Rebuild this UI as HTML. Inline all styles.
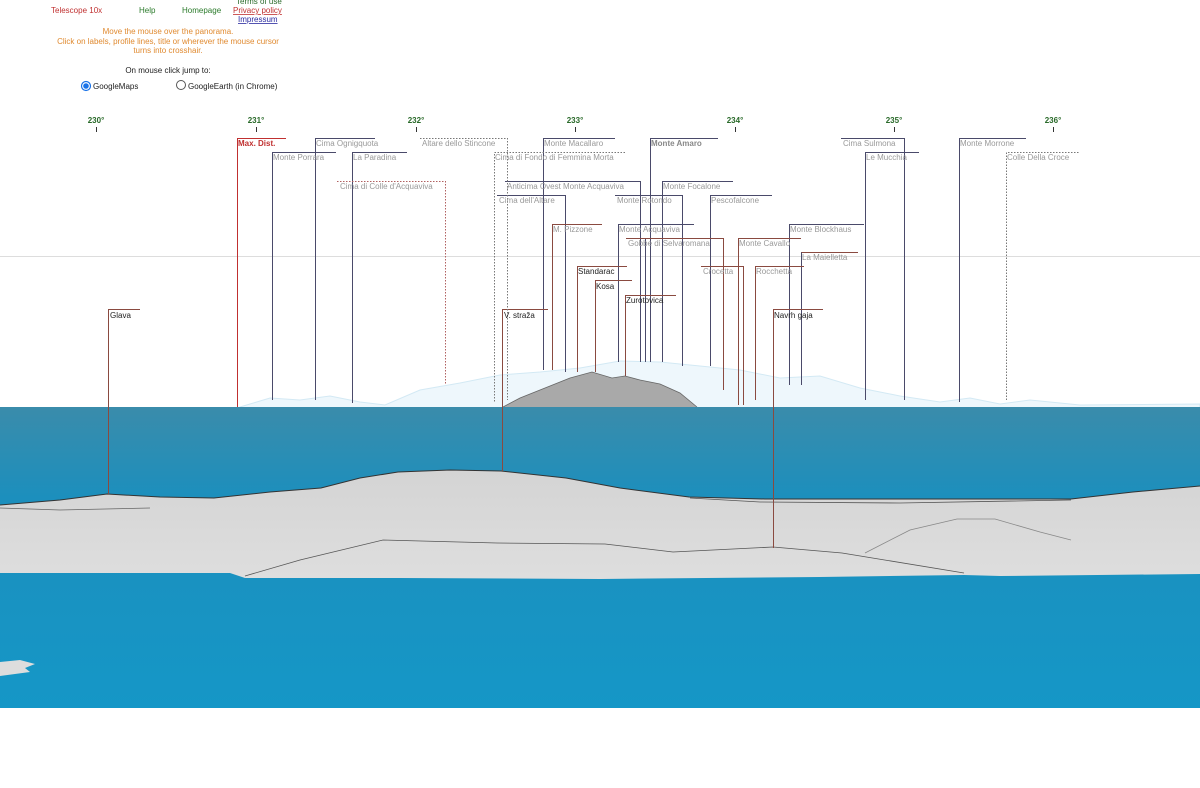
<!DOCTYPE html>
<html><head><meta charset="utf-8"><style>
html,body{margin:0;padding:0;background:#fff;width:1200px;height:788px;overflow:hidden}
svg{display:block}
text{font-family:"Liberation Sans",sans-serif}
</style></head><body>
<svg width="1200" height="788" viewBox="0 0 1200 788" xmlns="http://www.w3.org/2000/svg">
<defs>
<linearGradient id="sea" x1="0" y1="0" x2="0" y2="1">
<stop offset="0" stop-color="#3a8cab"/><stop offset="0.3" stop-color="#1c8fbd"/><stop offset="1" stop-color="#1597c7"/>
</linearGradient>
<linearGradient id="land" x1="0" y1="0" x2="0" y2="1">
<stop offset="0" stop-color="#d4d4d4"/><stop offset="1" stop-color="#dedede"/>
</linearGradient>
</defs>
<g font-size="8">
<text x="236" y="4" fill="#2a6a2a">Terms of use</text>
<text x="51" y="13" fill="#c03030">Telescope 10x</text>
<text x="139" y="13" fill="#2a7a2a">Help</text>
<text x="182" y="13" fill="#2a7a2a">Homepage</text>
<text x="233" y="13" fill="#c03030" text-decoration="underline">Privacy policy</text>
<text x="238" y="22" fill="#2a2aa0" text-decoration="underline">Impressum</text>
<g fill="#e08a30" text-anchor="middle">
<text x="168" y="34">Move the mouse over the panorama.</text>
<text x="168" y="44">Click on labels, profile lines, title or wherever the mouse cursor</text>
<text x="168" y="53">turns into crosshair.</text>
</g>
<text x="168" y="73" text-anchor="middle" fill="#222">On mouse click jump to:</text>
<circle cx="86" cy="86" r="4.5" fill="#fff" stroke="#1a73e8" stroke-width="1.2"/><circle cx="86" cy="86" r="2.8" fill="#1a73e8"/>
<text x="93" y="89" fill="#222">GoogleMaps</text>
<circle cx="181" cy="85" r="4.5" fill="#fff" stroke="#555" stroke-width="1"/>
<text x="188" y="89" fill="#222">GoogleEarth (in Chrome)</text>
</g>
<line x1="0" y1="256.5" x2="1200" y2="256.5" stroke="#ddd" stroke-width="1"/>
<g font-size="8" font-weight="bold" fill="#2a6a2a" text-anchor="middle">
<text x="96" y="123">230°</text><text x="256" y="123">231°</text><text x="416" y="123">232°</text><text x="575" y="123">233°</text><text x="735" y="123">234°</text><text x="894" y="123">235°</text><text x="1053" y="123">236°</text>
</g>
<g stroke="#333" stroke-width="1">
<line x1="96.5" y1="127" x2="96.5" y2="132"/><line x1="256.5" y1="127" x2="256.5" y2="132"/><line x1="416.5" y1="127" x2="416.5" y2="132"/><line x1="575.5" y1="127" x2="575.5" y2="132"/><line x1="735.5" y1="127" x2="735.5" y2="132"/><line x1="894.5" y1="127" x2="894.5" y2="132"/><line x1="1053.5" y1="127" x2="1053.5" y2="132"/>
</g>
<path d="M240,407 L270,398 L300,400 L330,396 L360,402 L385,405 L420,390 L460,383 L500,375 L540,372 L580,368 L620,361 L660,362 L700,366 L740,370 L780,378 L820,376 L860,388 L900,396 L940,402 L970,398 L1000,404 L1030,400 L1080,405 L1200,404 L1200,408 L240,408 Z" fill="#eef7fc" stroke="#d3e9f4" stroke-width="1"/>
<path d="M503,407 L520,398 L545,388 L570,378 L592,372 L612,378 L625,376 L640,380 L660,384 L680,393 L697,407 Z" fill="#a9a9a9"/>
<path d="M503,407 L520,398 L545,388 L570,378 L592,372 L612,378 L625,376 L640,380 L660,384 L680,393 L697,407" fill="none" stroke="#666" stroke-width="0.8"/>
<rect x="0" y="407" width="1200" height="301" fill="url(#sea)"/>
<path d="M0,505 L60,500 L107,494 L160,497 L214,498 L270,492 L321,488 L360,478 L398,472 L450,470 L501,471 L566,478 L620,488 L689,497 L765,499 L900,499 L1071,499 L1133,492 L1200,486 L1200,574 L1000,576 L964,575 L820,577 L600,579 L400,578 L245,578 L230,573 L0,573 Z" fill="url(#land)"/>
<path d="M0,505 L60,500 L107,494 L160,497 L214,498 L270,492 L321,488 L360,478 L398,472 L450,470 L501,471 L566,478 L620,488 L689,497 L765,499 L900,499 L1071,499 L1133,492 L1200,486" fill="none" stroke="#333" stroke-width="1"/>
<path d="M0,508 L60,510 L150,508" fill="none" stroke="#666" stroke-width="0.8"/>
<path d="M690,498 L760,502 L900,503 L1071,500" fill="none" stroke="#555" stroke-width="0.8"/>
<path d="M245,576 L300,560 L383,540 L497,543 L605,544 L673,552 L773,547 L842,553 L964,573" fill="none" stroke="#555" stroke-width="0.8"/>
<path d="M865,553 L910,530 L957,519 L995,519 L1040,532 L1071,540" fill="none" stroke="#888" stroke-width="0.8"/>
<path d="M0,662 L20,660 L35,664 L25,668 L30,672 L0,676 Z" fill="#ddd"/>
<g stroke-width="1" fill="none" shape-rendering="crispEdges">
<g stroke="#4a4a6a">
<path d="M315.5,400 V138.5 H375"/>
<path d="M272.5,400 V152.5 H336"/>
<path d="M352.5,403 V152.5 H407"/>
<path d="M543.5,370 V138.5 H615"/>
<path d="M650.5,362 V138.5 H718"/>
<path d="M640.5,362 V181.5 H505"/>
<path d="M662.5,362 V181.5 H733"/>
<path d="M565.5,372 V195.5 H497"/>
<path d="M682.5,366 V195.5 H615"/>
<path d="M710.5,366 V195.5 H772"/>
<path d="M618.5,362 V224.5 H694"/>
<path d="M789.5,385 V224.5 H864"/>
<path d="M904.5,400 V138.5 H841"/>
<path d="M865.5,400 V152.5 H919"/>
<path d="M959.5,402 V138.5 H1026"/>
<path d="M645.5,362 V238"/>
<path d="M801.5,385 V252"/>
</g>
<g stroke="#8a4a40">
<path d="M552.5,370 V224.5 H602"/>
<path d="M723.5,390 V238.5 H626"/>
<path d="M738.5,405 V238.5 H801"/>
<path d="M801.5,252.5 H858"/>
<path d="M743.5,405 V266.5 H701"/>
<path d="M755.5,400 V266.5 H804"/>
<path d="M577.5,372 V266.5 H627"/>
<path d="M595.5,372 V280.5 H632"/>
<path d="M625.5,376 V295.5 H676"/>
<path d="M773.5,548 V309.5 H823"/>
<path d="M502.5,471 V309.5 H548"/>
<path d="M108.5,494 V309.5 H140"/>
</g>
<path d="M237.5,407 V138.5 H286" stroke="#c03030"/>
<g stroke="#777" stroke-dasharray="1.5,1.5">
<path d="M420,138.5 H507.5 V400"/>
<path d="M625,152.5 H494.5 V402"/>
<path d="M1006.5,400 V152.5 H1080"/>
</g>
<path d="M337,181.5 H445.5 V384" stroke="#b06060" stroke-dasharray="1.5,1.5"/>
</g>
<g font-size="8" fill="#999">
<text x="238" y="146" fill="#c03030" font-weight="bold">Max. Dist.</text>
<text x="316" y="146">Cima Ognigquota</text>
<text x="273" y="160">Monte Porrara</text>
<text x="353" y="160">La Paradina</text>
<text x="422" y="146">Altare dello Stincone</text>
<text x="340" y="189">Cima di Colle d'Acquaviva</text>
<text x="544" y="146">Monte Macallaro</text>
<text x="495" y="160">Cima di Fondo di Femmina Morta</text>
<text x="651" y="146" font-weight="bold" fill="#888">Monte Amaro</text>
<text x="507" y="189">Anticima Ovest Monte Acquaviva</text>
<text x="663" y="189">Monte Focalone</text>
<text x="499" y="203">Cima dell'Altare</text>
<text x="617" y="203">Monte Rotondo</text>
<text x="711" y="203">Pescofalcone</text>
<text x="553" y="232">M. Pizzone</text>
<text x="619" y="232">Monte Acquaviva</text>
<text x="790" y="232">Monte Blockhaus</text>
<text x="628" y="246">Gobbe di Selvaromana</text>
<text x="739" y="246">Monte Cavallo</text>
<text x="802" y="260">La Maielletta</text>
<text x="703" y="274">Crocetta</text>
<text x="756" y="274">Rocchetta</text>
<text x="843" y="146">Cima Sulmona</text>
<text x="866" y="160">Le Mucchia</text>
<text x="960" y="146">Monte Morrone</text>
<text x="1007" y="160">Colle Della Croce</text>
<g fill="#222">
<text x="578" y="274">Standarac</text>
<text x="596" y="289">Kosa</text>
<text x="626" y="303">Zurotovica</text>
<text x="504" y="318">V. straža</text>
<text x="774" y="318">Navrh gaja</text>
<text x="110" y="318">Glava</text>
</g>
</g>
</svg>
</body></html>
